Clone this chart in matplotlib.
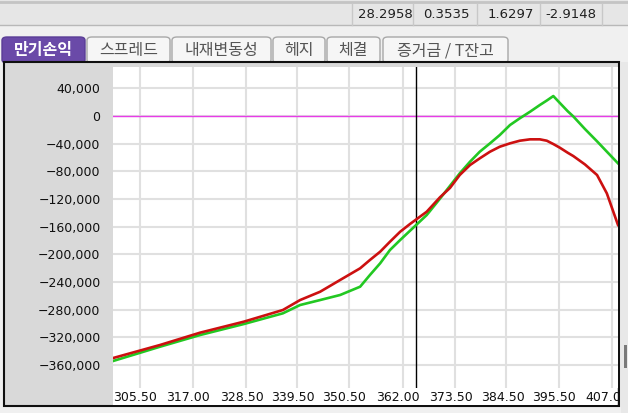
import matplotlib
matplotlib.use("Agg")
import matplotlib.pyplot as plt
from matplotlib.patches import Rectangle, FancyBboxPatch
from matplotlib import font_manager

# ---- data ----
header_vals = ["28.2958", "0.3535", "1.6297", "-2.9148"]
tab_names = ["만기손익", "스프레드", "내재변동성", "헤지", "체결", "증거금 / T잔고"]

x_ticks = [305.50, 317.00, 328.50, 339.50, 350.50, 362.00, 373.50, 384.50, 395.50, 407.00]
x_labels = ["305.50", "317.00", "328.50", "339.50", "350.50", "362.00",
            "373.50", "384.50", "395.50", "407.0"]
y_ticks = [40000, 0, -40000, -80000, -120000, -160000, -200000,
           -240000, -280000, -320000, -360000]

price = [305.5, 315.6, 324.2, 333.6, 342.0, 345.7, 350.0, 354.3, 358.6, 360.7,
         362.9, 365.0, 367.2, 369.3, 372.9, 375.75, 377.9, 380.0, 382.2, 384.3,
         386.5, 388.6, 390.8, 392.9, 395.1, 397.2, 398.7, 400.1, 401.5, 403.2,
         404.4, 406.9, 409.5, 411.6, 414.0]
pl_now = [-350000, -331100, -313300, -297400, -280500, -266100, -254100, -237100,
          -220200, -208200, -196200, -181800, -167300, -156200, -138400, -117500,
          -104000, -85300, -70900, -61200, -51600, -44400, -39500, -35700,
          -33700, -33700, -35700, -40500, -45800, -53100, -57900, -70000,
          -85300, -111800, -157600]
pl_expiry = [-354300, -333600, -316700, -300800, -285300, -273300, -266100, -258800,
             -246800, -229900, -213000, -193800, -179300, -166000, -143200, -119500,
             -101000, -82900, -66100, -51600, -39500, -27500, -13000, -3300,
             6200, 15900, 22400, 28900, 18900, 6900, -600, -18800,
             -36600, -51500, -68400]
cursor_x = 370.6

W, H = 628, 413
fig = plt.figure(figsize=(W / 100, H / 100), dpi=100, facecolor="#f0f0f0")

names = {f.name for f in font_manager.fontManager.ttflist}
num_font = "Liberation Sans Narrow" if "Liberation Sans Narrow" in names else "DejaVu Sans"
num_size = 11.5 if num_font == "Liberation Sans Narrow" else 9
kr_font = ["Noto Sans CJK KR", "DejaVu Sans"]


def box(x0, y0, x1, y1, **kw):
    fig.add_artist(Rectangle((x0 / W, 1 - y1 / H), (x1 - x0) / W, (y1 - y0) / H,
                             transform=fig.transFigure, **kw))


def hline(x0, x1, y, color, lw=1):
    fig.add_artist(plt.Line2D([x0 / W, x1 / W], [1 - y / H, 1 - y / H],
                              transform=fig.transFigure, color=color, lw=lw))


def vline(x, y0, y1, color, lw=1):
    fig.add_artist(plt.Line2D([x / W, x / W], [1 - y0 / H, 1 - y1 / H],
                              transform=fig.transFigure, color=color, lw=lw))


# header bar
box(0, 0, W, 25, facecolor="#e6e6e6", edgecolor="none")
hline(0, W, 1.5, "#c4c4c4", 2)
hline(0, W, 25, "#b8b8b8", 1)
for xd in [352, 413, 477, 540, 602]:
    vline(xd, 3, 25, "#c8c8c8", 1)
for val, xc in zip(header_vals, [385, 446, 511, 571]):
    fig.text(xc / W, 1 - 14 / H, val, ha="center", va="center",
             family=num_font, size=num_size + 0.5, color="#202020")

# tabs
tab_x = [(2, 85), (87, 170), (172, 271), (273, 325), (327, 380), (383, 508)]
for i, (name, (a, b)) in enumerate(zip(tab_names, tab_x)):
    sel = i == 0
    fig.add_artist(FancyBboxPatch((a / W, 1 - 63 / H), (b - a) / W, 26 / H,
                                  boxstyle="round,pad=0,rounding_size=0.008",
                                  transform=fig.transFigure,
                                  facecolor="#6a4aa8" if sel else "#f6f6f6",
                                  edgecolor="#5a3d96" if sel else "#a8a8a8", lw=1))
    fig.text((a + b) / 2 / W, 1 - 50.5 / H, name, ha="center", va="center",
             family=kr_font, size=11.5, color="white" if sel else "#555555",
             weight="bold" if sel else "normal")

# chart frame
box(4, 62, 619, 406, facecolor="#d9d9d9", edgecolor="#101010", lw=1.5)
box(113, 388, 617, 405, facecolor="white", edgecolor="none")
box(621, 62, W, 413, facecolor="#e8e8e8", edgecolor="none")
box(624, 345, 627, 368, facecolor="#7a7a7a", edgecolor="none")

# plot area
ax = fig.add_axes([113 / W, (H - 388) / H, 505 / W, 321 / H])
ax.set_zorder(5)
ax.set_facecolor("white")
for s in ax.spines.values():
    s.set_visible(False)
ax.set_xlim(305.5, 414.0)
ax.set_ylim(-393300, 70900)

ax.set_yticks(y_ticks)
ax.set_yticklabels([f"{v:,}".replace("-", "\u2212") for v in y_ticks])
ax.set_xticks(x_ticks)
ax.set_xticklabels(x_labels, ha="left")
mids = [(a + b) / 2 for a, b in zip(x_ticks, x_ticks[1:] + [418.5])]
ax.set_xticks(mids, minor=True)
ax.tick_params(axis="both", which="both", length=0)
ax.tick_params(axis="y", pad=9)
ax.tick_params(axis="x", pad=2)
for lab in ax.get_xticklabels() + ax.get_yticklabels():
    lab.set_family(num_font)
    lab.set_size(num_size)
    lab.set_color("#101010")

ax.grid(axis="y", which="major", color="#e0e0e0", lw=1.5)
ax.grid(axis="x", which="minor", color="#e0e0e0", lw=1.5)
ax.grid(axis="x", which="major", visible=False)
ax.set_axisbelow(True)

ax.axhline(0, color="#e83ce8", lw=1, zorder=2)
ax.axvline(cursor_x, color="black", lw=1, zorder=2)

ax.plot(price, pl_expiry, color="#22c822", lw=1.9, zorder=3)
ax.plot(price, pl_now, color="#cc1010", lw=1.9, zorder=4)

fig.savefig("out.png", dpi=100, facecolor=fig.get_facecolor())
